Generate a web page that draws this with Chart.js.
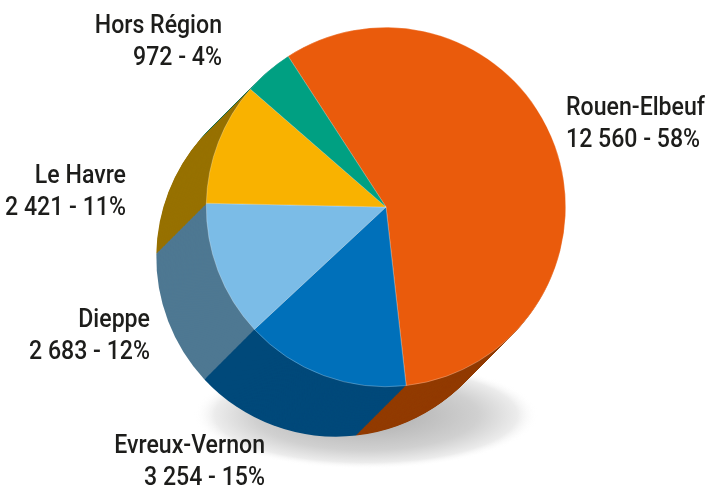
<!DOCTYPE html>
<html><head><meta charset="utf-8">
<script src="https://cdn.jsdelivr.net/npm/chart.js@4.4.0/dist/chart.umd.min.js"></script>
<style>html,body{margin:0;padding:0;background:#fff;overflow:hidden}</style>
</head><body>
<canvas id="c" width="708" height="488"></canvas>
<script>
// ---- data ----
const categories = ['Rouen-Elbeuf', 'Evreux-Vernon', 'Dieppe', 'Le Havre', 'Hors Région'];
const values = [12560, 3254, 2683, 2421, 972];
const valueLabels = ['12 560', '3 254', '2 683', '2 421', '972'];
const percentLabels = ['58%', '15%', '12%', '11%', '4%'];

// ---- styles / layout ----
const topColors = ['#EA5B0C', '#0070BA', '#7BBCE7', '#F9B200', '#00A082'];
const sideColors = ['#923B00', '#00497A', '#4E7892', '#977100', '#006E57'];
const labelOffsets = [[180, -92], [-121, 246], [-236, 120], [-260, -24], [-164, -174]];
const labelAlign = ['left', 'right', 'right', 'right', 'right'];
const depth = { dx: -50, dy: 50 };
const FONT = '500 25px Roboto, "DejaVu Sans", sans-serif';
const refTextWidth = 139; // width of "Rouen-Elbeuf" in the reference

const extrude = {
  id: 'extrude',
  beforeDatasetsDraw(chart) {
    const ctx = chart.ctx;
    const arcs = chart.getDatasetMeta(0).data;
    const c = arcs[0].getProps(['x', 'y', 'outerRadius']);
    // floor shadow
    ctx.save();
    const rx = 172, ry = 54;
    ctx.translate(c.x - 20, c.y + 208);
    ctx.scale(1, ry / rx);
    const g = ctx.createRadialGradient(0, 0, 0, 0, 0, rx);
    g.addColorStop(0, 'rgba(170,170,170,1)');
    g.addColorStop(0.65, 'rgba(208,208,208,1)');
    g.addColorStop(0.88, 'rgba(236,236,236,1)');
    g.addColorStop(1, 'rgba(255,255,255,0)');
    ctx.fillStyle = g;
    ctx.beginPath(); ctx.arc(0, 0, rx, 0, Math.PI * 2); ctx.fill();
    ctx.restore();
    // side walls
    const N = 70;
    ctx.save();
    for (let s = N; s >= 1; s--) {
      const ox = depth.dx * s / N, oy = depth.dy * s / N;
      arcs.forEach((arc, i) => {
        const p = arc.getProps(['x', 'y', 'startAngle', 'endAngle', 'outerRadius']);
        ctx.beginPath();
        ctx.moveTo(p.x + ox, p.y + oy);
        ctx.arc(p.x + ox, p.y + oy, p.outerRadius, p.startAngle, p.endAngle);
        ctx.closePath();
        ctx.fillStyle = sideColors[i];
        ctx.fill();
      });
    }
    ctx.restore();
  },
  afterDraw(chart) {
    const ctx = chart.ctx;
    const arcs = chart.getDatasetMeta(0).data;
    const c = arcs[0].getProps(['x', 'y']);
    ctx.save();
    ctx.fillStyle = '#1d1d1b';
    ctx.font = FONT;
    ctx.textBaseline = 'alphabetic';
    const sx = refTextWidth / ctx.measureText('Rouen-Elbeuf').width;
    categories.forEach((name, i) => {
      const x = c.x + labelOffsets[i][0], y = c.y + labelOffsets[i][1];
      ctx.save();
      ctx.translate(x, 0);
      ctx.scale(sx, 1);
      ctx.textAlign = labelAlign[i];
      ctx.fillText(name, 0, y);
      ctx.fillText(valueLabels[i] + ' - ' + percentLabels[i], 0, y + 32);
      ctx.restore();
    });
    ctx.restore();
  }
};

new Chart(document.getElementById('c'), {
  type: 'pie',
  data: {
    labels: categories,
    datasets: [{
      data: values,
      backgroundColor: topColors,
      borderColor: 'rgba(255,255,255,0.45)',
      borderWidth: 0.6
    }]
  },
  options: {
    responsive: false,
    animation: false,
    rotation: -33,
    layout: { padding: { left: 206, right: 142, top: 27, bottom: 101 } },
    plugins: { legend: { display: false }, tooltip: { enabled: false } }
  },
  plugins: [extrude]
});
</script>
</body></html>
